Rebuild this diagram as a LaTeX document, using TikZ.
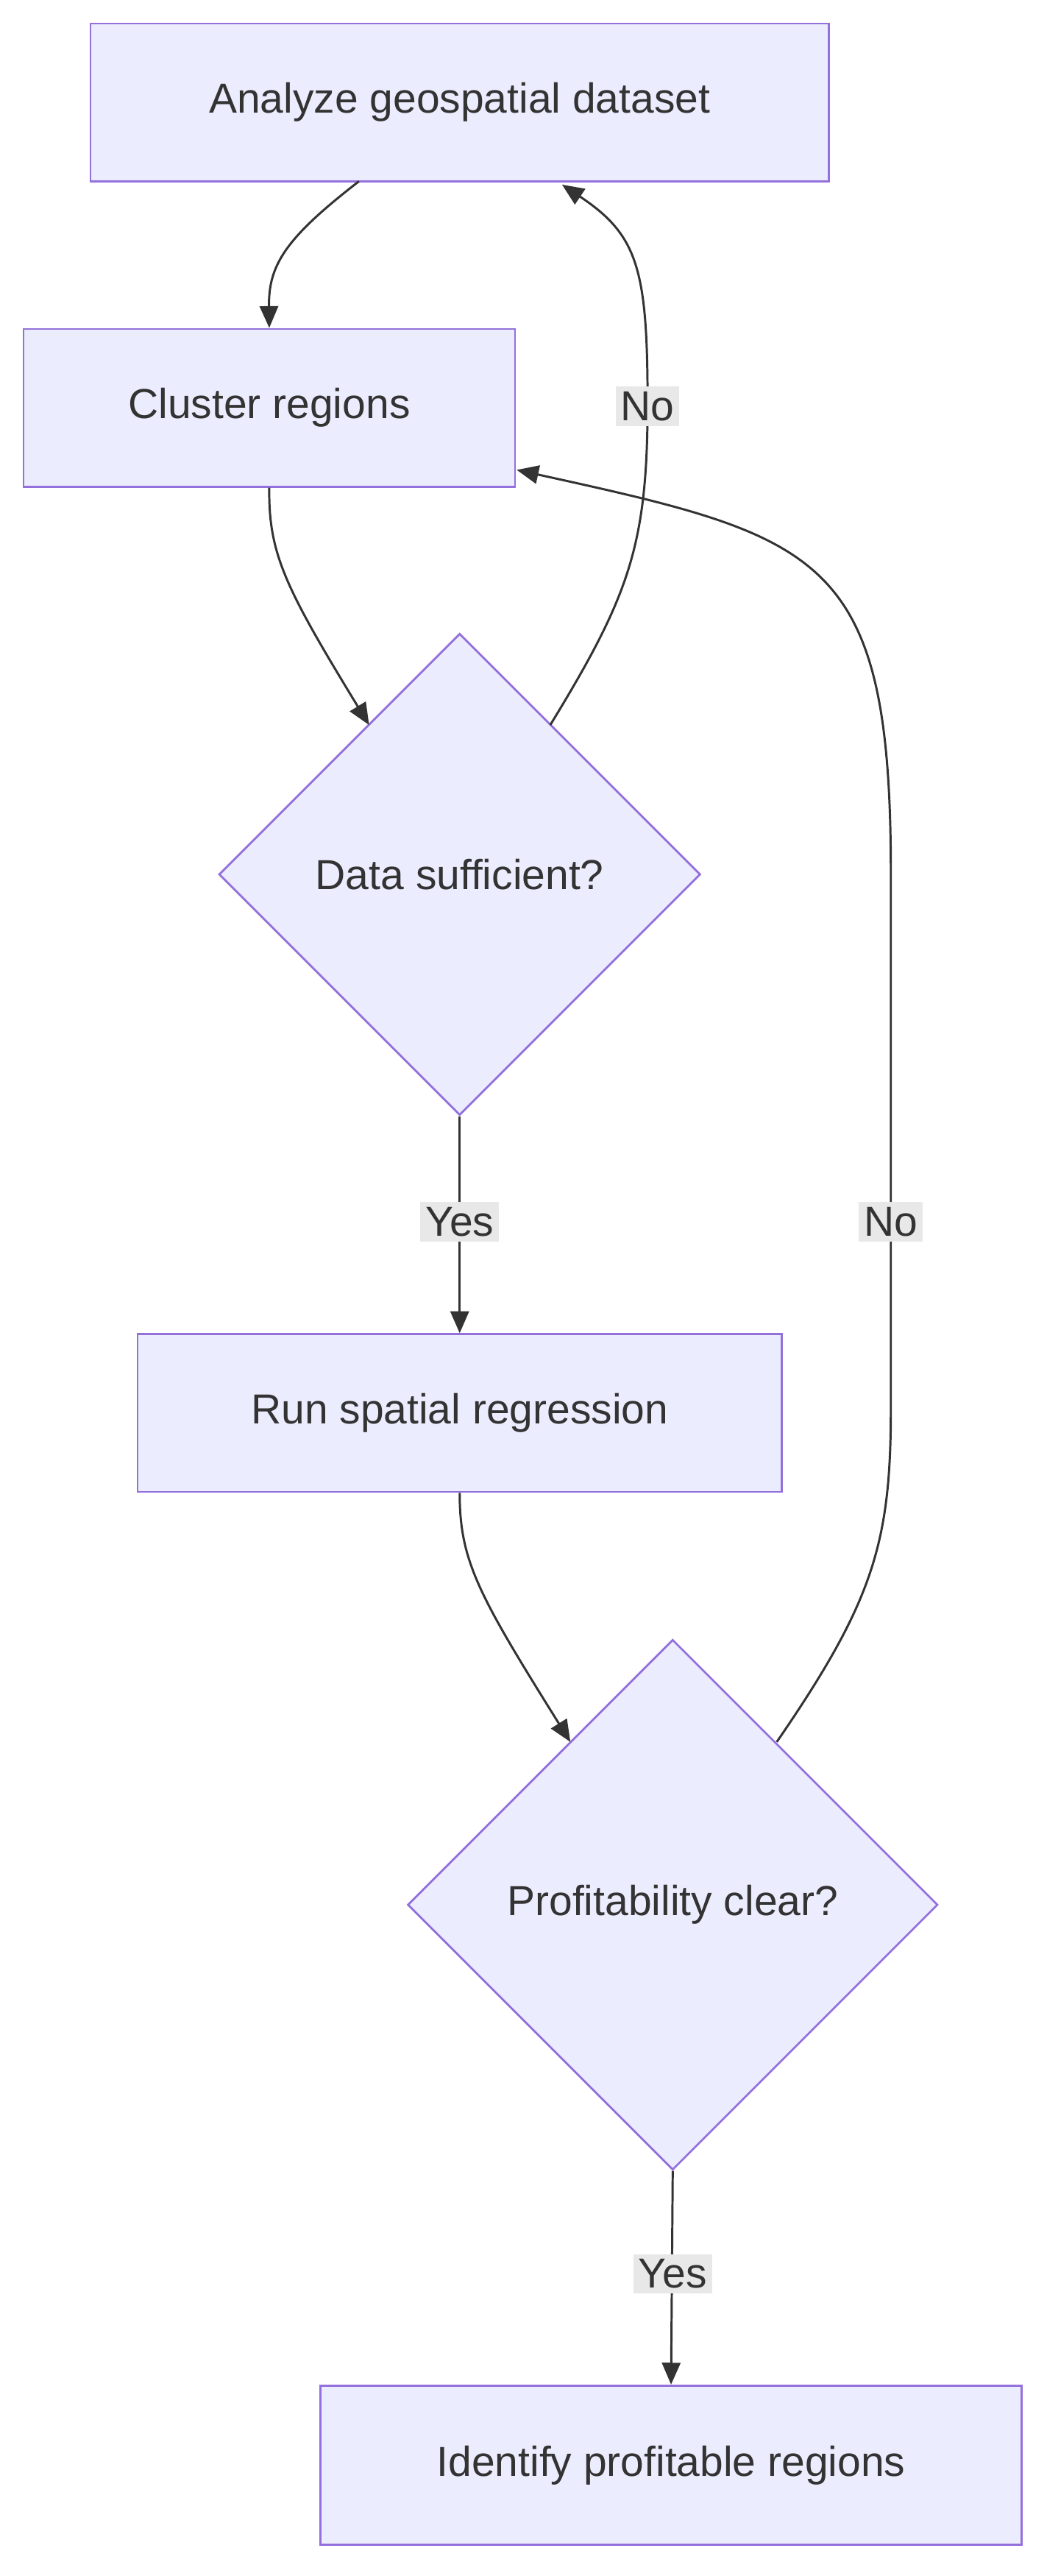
\documentclass[tikz,border=0pt]{standalone}
\usepackage{fontspec}
\setmainfont{Liberation Sans}
\usetikzlibrary{shapes.geometric,arrows.meta}
\definecolor{boxfill}{HTML}{ECECFF}
\definecolor{boxline}{HTML}{9370DB}
\definecolor{ink}{HTML}{333333}
\definecolor{lblbg}{HTML}{E8E8E8}
\begin{document}
\begin{tikzpicture}[x=1pt,y=-1pt]
\tikzset{
  procbox/.style={draw=boxline,fill=boxfill,line width=1.2pt,text=ink,inner sep=0pt},
  test/.style={diamond,aspect=1,draw=boxline,fill=boxfill,line width=1.2pt,text=ink,inner sep=0pt},
  flow/.style={draw=ink,line width=1.3pt,-{Triangle[length=13pt,width=11pt]}},
  lbl/.style={fill=lblbg,text=ink,inner sep=3pt}
}
\fontsize{25}{30}\selectfont
\useasboundingbox (0,0) rectangle (624,1535);
\node[procbox,minimum width=440pt,minimum height=94pt] (analyze) at (274,61) {Analyze geospatial dataset};
\node[procbox,minimum width=293pt,minimum height=94pt] (cluster) at (160.5,243) {Cluster regions};
\node[test,minimum width=287pt,minimum height=287pt] (enough) at (274,521) {Data sufficient?};
\node[procbox,minimum width=384pt,minimum height=94pt] (regress) at (274,842) {Run spatial regression};
\node[test,minimum width=316pt,minimum height=316pt] (profit) at (401,1135) {Profitability clear?};
\node[procbox,minimum width=418pt,minimum height=95pt] (identify) at (400,1469) {Identify profitable regions};
% edges
\draw[flow] (214,108) .. controls (170,142) and (160,158) .. (cluster.north);
\draw[flow] (cluster.south) .. controls (160,330) and (170,350) .. (220,432);
\draw[flow] (328,432) .. controls (375,355) and (386,325) .. (386,240) .. controls (386,160) and (380,140) .. (335,110);
\node[lbl] (no1) at (386,242) {No};
\draw[flow] (enough.south) -- (regress.north);
\node[lbl] (yes1) at (274,728) {Yes};
\draw[flow] (regress.south) .. controls (274,930) and (285,950) .. (340,1038);
\draw[flow] (463,1038) .. controls (520,955) and (531,920) .. (531,840) -- (531,520) .. controls (531,330) and (490,320) .. (308,280);
\node[lbl] (no2) at (531,728) {No};
\draw[flow] (profit.south) -- (identify.north);
\node[lbl] (yes2) at (401,1355) {Yes};
\end{tikzpicture}
\end{document}
